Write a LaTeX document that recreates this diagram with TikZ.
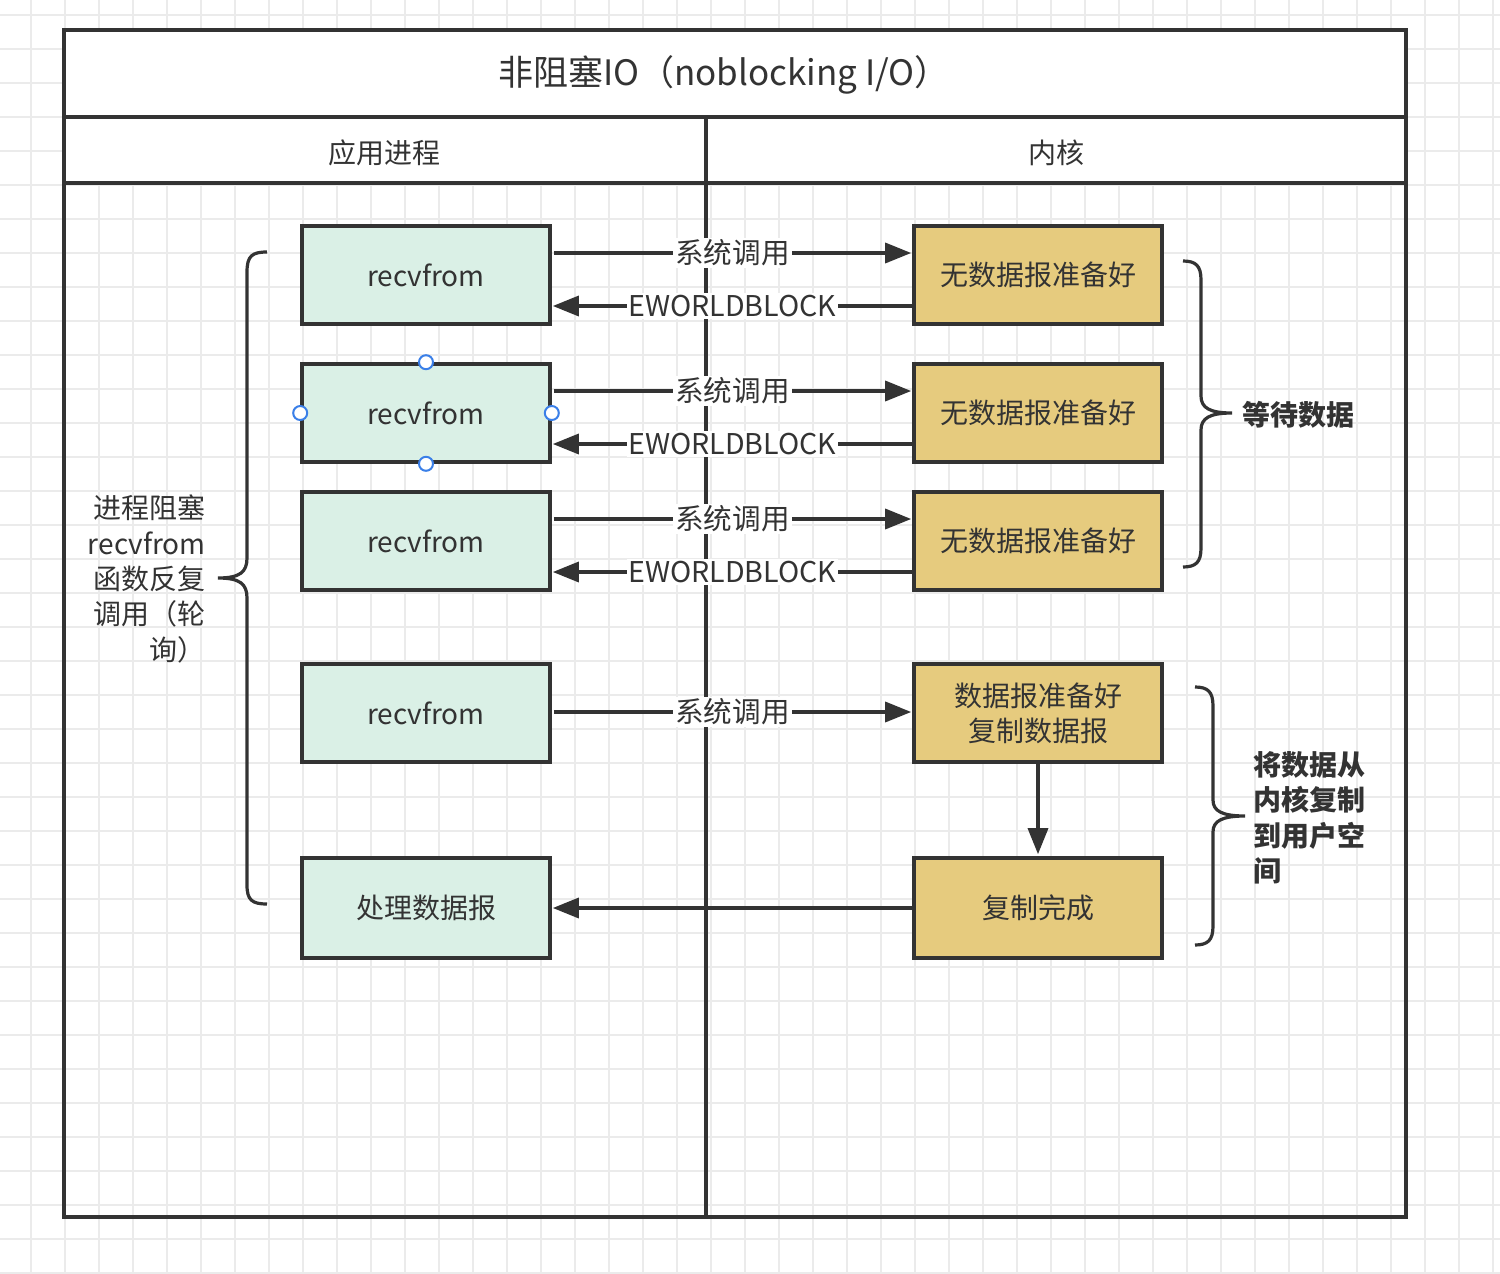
\documentclass[tikz,border=0pt]{standalone}
\usepackage{fontspec}
\setmainfont{Noto Sans CJK SC}
\usetikzlibrary{arrows.meta,calc}
\definecolor{ink}{HTML}{333333}
\definecolor{mint}{HTML}{DAF0E6}
\definecolor{gold}{HTML}{E6CB7E}
\definecolor{gridc}{HTML}{EBEBEB}
\definecolor{handlec}{HTML}{3A7FE8}
\begin{document}
\begin{tikzpicture}[x=0.5pt,y=-0.5pt,
  box/.style={draw=ink,line width=1.8pt,minimum width=124pt,minimum height=49pt,inner sep=0pt,font=\fontsize{14}{17.5}\selectfont,text=ink,align=center},
  app/.style={box,fill=mint},
  kern/.style={box,fill=gold},
  arr/.style={draw=ink,line width=1.7pt,-{Triangle[length=13pt,width=10pt]}},
  lbl/.style={fill=white,inner sep=1pt,font=\fontsize{14.3}{17}\selectfont,text=ink},
  txt/.style={font=\fontsize{14}{17.7}\selectfont,text=ink,inner sep=0pt},
  brace/.style={draw=ink,line width=1.6pt},
  handle/.style={circle,draw=handlec,fill=white,line width=1pt,minimum size=7pt,inner sep=0pt}]
\useasboundingbox (0,0) rectangle (1500,1274);
\fill[white] (0,0) rectangle (1500,1274);
% grid
\foreach \k in {0,...,43} {\draw[gridc,line width=0.8pt] ({31+34*\k},0) -- ({31+34*\k},1274);}
\foreach \k in {0,...,37} {\draw[gridc,line width=0.8pt] (0,{15+34*\k}) -- (1500,{15+34*\k});}
% frame
\fill[white] (64,30) rectangle (1406,183);
\draw[ink,line width=2pt] (706,117) -- (706,1217);
\draw[ink,line width=2pt] (64,117) -- (1406,117);
\draw[ink,line width=2pt] (64,183) -- (1406,183);
\draw[ink,line width=2pt] (64,30) rectangle (1406,1217);
\node[txt,font=\fontsize{17.5}{20}\selectfont] (title) at (724,75) {非阻塞IO（noblocking I/O）};
\node[txt] (happ) at (384,153) {应用进程};
\node[txt] (hkern) at (1056,153) {内核};
% boxes
\node[app] (l1) at (426,275) {recvfrom};
\node[app] (l2) at (426,413) {recvfrom};
\node[app] (l3) at (426,541) {recvfrom};
\node[app] (l4) at (426,713) {recvfrom};
\node[app,minimum height=50pt] (l5) at (426,908) {处理数据报};
\node[kern] (k1) at (1038,275) {无数据报准备好};
\node[kern] (k2) at (1038,413) {无数据报准备好};
\node[kern] (k3) at (1038,541) {无数据报准备好};
\node[kern] (k4) at (1038,713) {数据报准备好\\复制数据报};
\node[kern,minimum height=50pt] (k5) at (1038,908) {复制完成};
% arrows
\foreach \i in {1,2,3} {
  \draw[arr] ($(l\i.east)+(2,-22)$) -- node[lbl]{系统调用} ($(k\i.west)+(-1,-22)$);
  \draw[arr] ($(k\i.west)+(0,31)$) -- node[lbl]{EWORLDBLOCK} ($(l\i.east)+(1,31)$);
}
\draw[arr] ($(l4.east)+(2,-1)$) -- node[lbl]{系统调用} ($(k4.west)+(-1,-1)$);
\draw[arr] (k4.south) -- ($(k5.north)+(0,-2)$);
\draw[arr] (k5.west) -- ($(l5.east)+(1,0)$);
% handles
\foreach \a in {north,south,east,west} {\node[handle] at (l2.\a) {};}
% left brace
\draw[brace] (267,252) .. controls (252,252) and (247,256) .. (247,272)
  -- (247,558) .. controls (247,572) and (240,578) .. (218,578)
  .. controls (240,578) and (247,584) .. (247,598)
  -- (247,885) .. controls (247,900) and (252,904) .. (267,904);
\node[txt,align=right,anchor=east] (ltxt) at (206,579) {进程阻塞\\recvfrom\\函数反复\\调用（轮\\询）};
% right brace 1
\draw[brace] (1183,261) .. controls (1196,261) and (1201,266) .. (1201,280)
  -- (1201,396) .. controls (1201,408) and (1210,413) .. (1232,413)
  .. controls (1210,413) and (1201,418) .. (1201,430)
  -- (1201,548) .. controls (1201,562) and (1196,567) .. (1183,567);
\node[txt,font=\fontsize{14}{17}\selectfont\bfseries,anchor=west] (wait) at (1242,415) {等待数据};
% right brace 2
\draw[brace] (1195,687) .. controls (1208,687) and (1213,692) .. (1213,706)
  -- (1213,800) .. controls (1213,811) and (1222,816) .. (1245,816)
  .. controls (1222,816) and (1213,821) .. (1213,832)
  -- (1213,926) .. controls (1213,940) and (1208,945) .. (1195,945);
\node[txt,font=\fontsize{14}{17.7}\selectfont\bfseries,align=left,anchor=west] (copy) at (1253,818) {将数据从\\内核复制\\到用户空\\间};
\end{tikzpicture}
\end{document}
